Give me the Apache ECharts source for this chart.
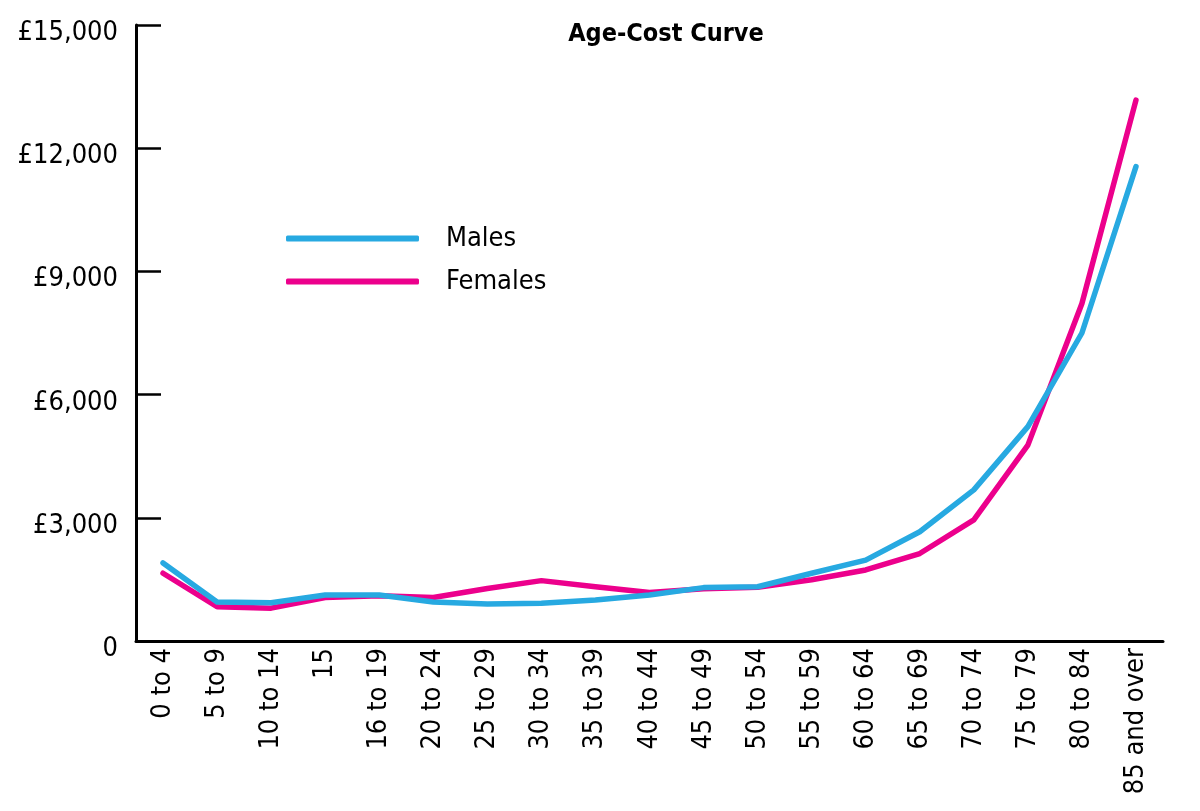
<!DOCTYPE html>
<html>
<head>
<meta charset="utf-8">
<script src="https://cdn.jsdelivr.net/npm/echarts@6/dist/echarts.min.js"></script>
<style>
html,body{margin:0;padding:0;background:#fff;}
#chart{width:1200px;height:811px;}
</style>
</head>
<body>
<div id="chart"></div>
<script>
const categories = ["0 to 4","5 to 9","10 to 14","15","16 to 19","20 to 24","25 to 29","30 to 34","35 to 39","40 to 44","45 to 49","50 to 54","55 to 59","60 to 64","65 to 69","70 to 74","75 to 79","80 to 84","85 and over"];
const males = [1900,950,930,1120,1120,950,900,920,1000,1120,1300,1320,1650,1970,2660,3680,5220,7500,11550];
const females = [1650,835,800,1060,1100,1060,1280,1470,1320,1180,1270,1310,1490,1730,2130,2950,4770,8220,13170];
const yTicks = [0,3000,6000,9000,12000,15000];

const FONT = "'DejaVu Sans Condensed', 'DejaVu Sans', sans-serif";
const chart = echarts.init(document.getElementById('chart'));
chart.setOption({
  backgroundColor: '#fff',
  animation: false,
  title: {
    text: 'Age-Cost Curve',
    left: 661, top: 17, textAlign: 'center',
    textStyle: {fontFamily: FONT, fontSize: 25, fontWeight: 'bold', color: '#000'}
  },
  legend: {
    orient: 'vertical',
    left: 281, top: 220,
    itemWidth: 133, itemHeight: 6, itemGap: 16,
    icon: 'roundRect',
    textStyle: {fontFamily: FONT, fontSize: 27, color: '#000', padding: [0,0,0,22]},
    data: ['Males','Females']
  },
  grid: {left: 136, right: 37, top: 25, bottom: 170, containLabel: false},
  xAxis: {
    type: 'category',
    data: categories,
    boundaryGap: true,
    axisLine: {lineStyle: {color: '#000', width: 3}},
    axisTick: {inside: true, length: 14, lineStyle: {color: '#000', width: 2.5}},
    axisLabel: {rotate: 90, fontFamily: FONT, fontSize: 27, color: '#000', margin: 7, interval: 0}
  },
  yAxis: {
    type: 'value',
    min: yTicks[0], max: yTicks[yTicks.length-1], interval: 3000,
    splitLine: {show: false},
    axisLine: {show: true, lineStyle: {color: '#000', width: 3}},
    axisTick: {show: true, inside: true, length: 25, lineStyle: {color: '#000', width: 2.5}},
    axisLabel: {
      fontFamily: FONT, fontSize: 27, color: '#000', margin: 18,
      verticalAlign: 'top', lineHeight: 16,
      formatter: v => v === 0 ? '0' : '£' + v.toLocaleString('en-GB')
    }
  },
  series: [
    {name: 'Males', type: 'line', data: males, symbol: 'none', color: '#27A9E1',
     lineStyle: {width: 5.5, cap: 'round', join: 'round'}, z: 3},
    {name: 'Females', type: 'line', data: females, symbol: 'none', color: '#EC008C',
     lineStyle: {width: 5.5, cap: 'round', join: 'round'}, z: 2}
  ]
});
</script>
</body>
</html>
